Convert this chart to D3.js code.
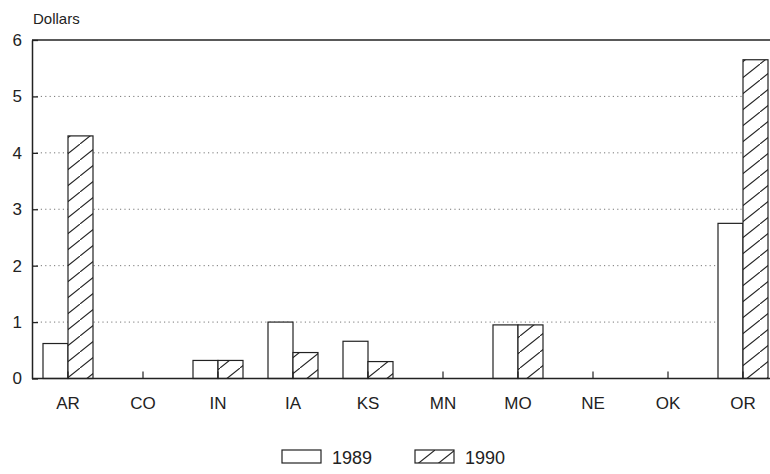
<!DOCTYPE html>
<html>
<head>
<meta charset="utf-8">
<script src="https://cdn.jsdelivr.net/npm/d3@7"></script>
<style>
  html, body { margin: 0; padding: 0; background: #fff; }
  svg { display: block; }
  text { font-family: "Liberation Sans", Arial, Helvetica, sans-serif; fill: #222; }
</style>
</head>
<body>
<svg id="chart" width="770" height="474"></svg>
<script>
// ---- data ----
const categories = ["AR", "CO", "IN", "IA", "KS", "MN", "MO", "NE", "OK", "OR"];
const seriesNames = ["1989", "1990"];
const values1989 = [0.62, 0, 0.32, 1.0, 0.66, 0, 0.95, 0, 0, 2.75];
const values1990 = [4.3, 0, 0.32, 0.46, 0.3, 0, 0.95, 0, 0, 5.65];
const yTicks = [0, 1, 2, 3, 4, 5, 6];
const yLabel = "Dollars";

(function () {
const svg = d3.select("#chart");
const ink = "#222";

const plotLeft = 32, plotRight = 770, plotTop = 40, plotBottom = 378.5;

const x = d3.scaleBand().domain(categories).range([30.5, 780.5]).paddingInner(0).paddingOuter(0);
const xs = d3.scaleBand().domain(seriesNames).range([12.5, 62.5]);
const y = d3.scaleLinear().domain([0, 6]).range([plotBottom, plotTop]);

// hatch pattern
const defs = svg.append("defs");
const pat = defs.append("pattern")
  .attr("id", "hatch").attr("patternUnits", "userSpaceOnUse")
  .attr("width", 20).attr("height", 16);
pat.append("rect").attr("width", 20).attr("height", 16).attr("fill", "#fff");
pat.append("path").attr("d", "M-5,20 L25,-4").attr("stroke", ink).attr("stroke-width", 1.1).attr("fill", "none");

// gridlines (dotted)
svg.append("g").selectAll("line").data(yTicks.filter(d => d > 0 && d < 6)).join("line")
  .attr("x1", plotLeft).attr("x2", plotRight)
  .attr("y1", d => y(d)).attr("y2", d => y(d))
  .attr("stroke", "#777").attr("stroke-width", 1).attr("stroke-dasharray", "1.2,3.2");

// top frame line
svg.append("line").attr("x1", plotLeft).attr("x2", plotRight).attr("y1", y(6)).attr("y2", y(6))
  .attr("stroke", ink).attr("stroke-width", 1.5);

// bars
const rows = categories.map((c, i) => ({ c, v: [values1989[i], values1990[i]] }));
const g = svg.append("g");
rows.forEach(r => {
  seriesNames.forEach((s, j) => {
    if (r.v[j] <= 0) return;
    g.append("rect")
      .attr("x", x(r.c) + xs(s))
      .attr("width", xs.bandwidth())
      .attr("y", y(r.v[j]))
      .attr("height", y(0) - y(r.v[j]))
      .attr("fill", j === 0 ? "#fff" : "url(#hatch)")
      .attr("stroke", ink).attr("stroke-width", 1.2);
  });
});

// y axis
const yAxis = d3.axisLeft(y).tickValues(yTicks).tickFormat(d3.format("d")).tickSizeInner(-6).tickSizeOuter(0).tickPadding(10);
const ya = svg.append("g").attr("transform", `translate(${plotLeft},0)`).call(yAxis);
ya.select(".domain").attr("stroke", ink).attr("stroke-width", 1.5);
ya.selectAll(".tick line").attr("stroke", ink).attr("stroke-width", 1.3);
ya.selectAll(".tick text").attr("font-size", 17).attr("font-family", "Liberation Sans, Arial, sans-serif").attr("fill", ink);

// x axis
const xAxis = d3.axisBottom(x).tickSizeInner(-7).tickSizeOuter(0).tickPadding(18);
const xa = svg.append("g").attr("transform", `translate(0,${plotBottom})`).call(xAxis);
xa.select(".domain").attr("d", `M${plotLeft},0H${plotRight}`).attr("stroke", ink).attr("stroke-width", 1.5);
xa.selectAll(".tick line").attr("stroke", ink).attr("stroke-width", 1.2);
xa.selectAll(".tick text").attr("font-size", 17).attr("font-family", "Liberation Sans, Arial, sans-serif").attr("fill", ink);

// y label
svg.append("text").attr("x", 33).attr("y", 24).attr("font-size", 15).text(yLabel);

// legend
const legendX = [282, 415];
seriesNames.forEach((s, j) => {
  const lg = svg.append("g").attr("transform", `translate(${legendX[j]},450)`);
  lg.append("rect").attr("width", 39).attr("height", 13)
    .attr("fill", j === 0 ? "#fff" : "url(#hatch)").attr("stroke", ink).attr("stroke-width", 1.2);
  lg.append("text").attr("x", 50).attr("y", 13.5).attr("font-size", 18).text(s);
});
})();
</script>
</body>
</html>
